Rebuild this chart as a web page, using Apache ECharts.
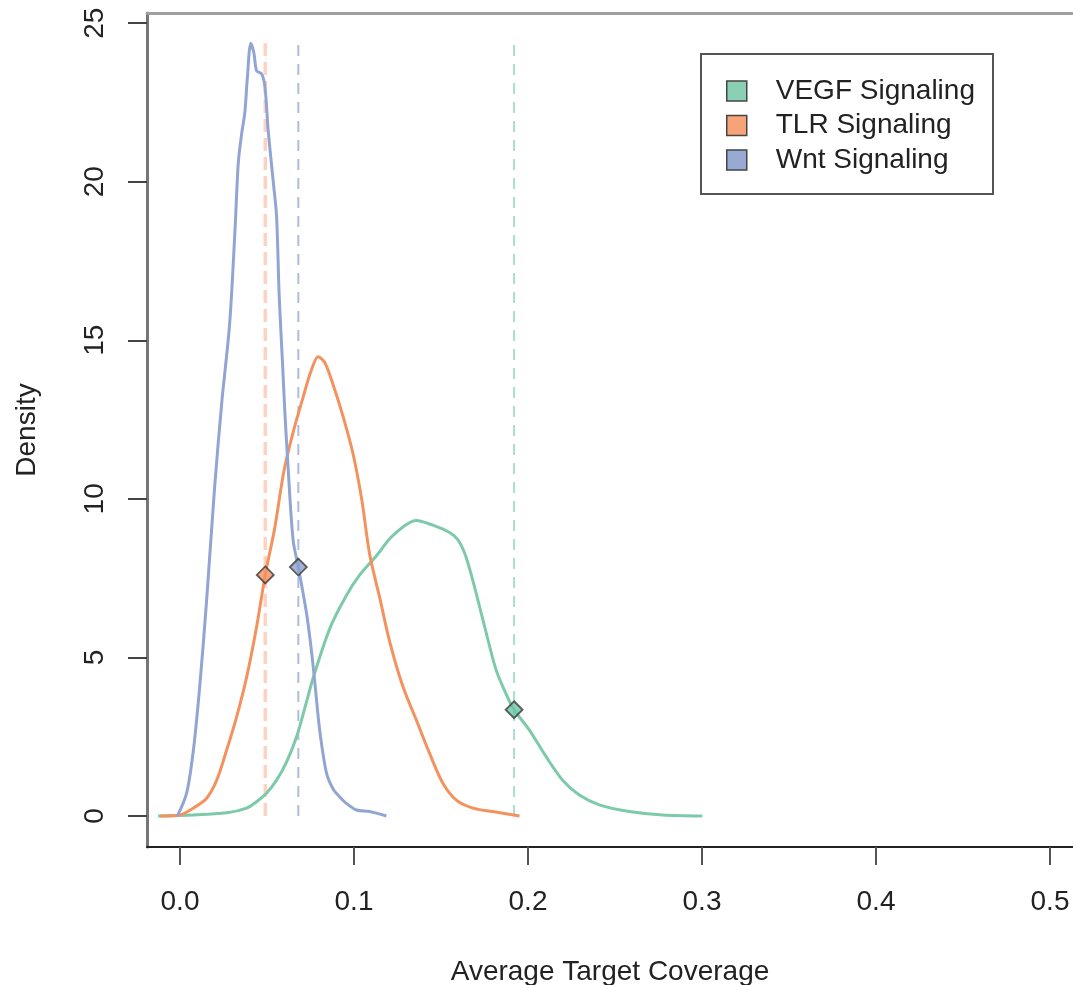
<!DOCTYPE html>
<html>
<head>
<meta charset="utf-8">
<title>Average Target Coverage</title>
<script src="https://cdn.jsdelivr.net/npm/echarts@6/dist/echarts.min.js"></script>
<style>
  html, body { margin: 0; padding: 0; background: #ffffff; }
  #chart { width: 1073px; height: 985px; }
</style>
</head>
<body>
<div id="chart"></div>
<script>
// Pathway names, in legend order
const seriesNames = ['VEGF Signaling', 'TLR Signaling', 'Wnt Signaling'];

// Kernel density estimates: [coverage, density]
const vegfDensity = [
  [-0.0126, 0.0], [0.0077, 0.03], [0.0268, 0.1], [0.0383, 0.25], [0.044, 0.45],
  [0.0497, 0.72], [0.0555, 1.13], [0.0612, 1.7], [0.067, 2.5], [0.0727, 3.6],
  [0.0765, 4.35], [0.086, 5.9], [0.0956, 6.95], [0.1033, 7.6], [0.1128, 8.2],
  [0.1224, 8.85], [0.1358, 9.32], [0.1453, 9.17], [0.1549, 8.94], [0.1595, 8.72],
  [0.1635, 8.3], [0.1664, 7.8], [0.1702, 7.03], [0.176, 5.77], [0.1817, 4.6],
  [0.1874, 3.85], [0.192, 3.35], [0.2008, 2.71], [0.2104, 1.87], [0.2199, 1.13],
  [0.2295, 0.66], [0.241, 0.35], [0.2582, 0.14], [0.2773, 0.03], [0.3002, 0.0]
];
const tlrDensity = [
  [-0.0115, 0.0], [0.0, 0.03], [0.0077, 0.25], [0.0153, 0.56], [0.0211, 1.13],
  [0.0268, 2.08], [0.0325, 3.12], [0.0383, 4.38], [0.044, 5.96], [0.049, 7.6],
  [0.0545, 9.1], [0.0598, 10.9], [0.065, 12.1], [0.0707, 13.2], [0.0755, 14.06],
  [0.0794, 14.48], [0.0832, 14.3], [0.088, 13.6], [0.0937, 12.6], [0.0994, 11.43],
  [0.1045, 9.96], [0.109, 8.25], [0.1147, 6.9], [0.1205, 5.5], [0.1281, 4.08],
  [0.1358, 3.03], [0.1434, 1.98], [0.1511, 1.03], [0.1588, 0.5], [0.1683, 0.25],
  [0.1798, 0.14], [0.1951, 0.0]
];
const wntDensity = [
  [-0.0015, 0.0], [0.0038, 0.72], [0.0077, 2.08], [0.0115, 4.19], [0.0153, 6.81],
  [0.0199, 10.37], [0.0241, 13.1], [0.0285, 15.5], [0.0316, 18.47], [0.0335, 20.6],
  [0.0354, 21.5], [0.0373, 22.2], [0.0386, 23.2], [0.0407, 24.37], [0.0425, 24.05],
  [0.044, 23.5], [0.0469, 23.4], [0.0488, 23.0], [0.0507, 21.6], [0.0535, 20.05],
  [0.0555, 18.9], [0.057, 16.4], [0.0589, 14.3], [0.0602, 12.8], [0.0621, 11.0],
  [0.065, 8.7], [0.068, 7.85], [0.0727, 6.4], [0.0755, 5.23], [0.0775, 4.2],
  [0.0803, 2.7], [0.0842, 1.35], [0.088, 0.85], [0.0918, 0.6], [0.0956, 0.4],
  [0.1014, 0.19], [0.109, 0.14], [0.1186, 0.0]
];

// Observed coverage for each pathway and its density on the curve
const observedX = [0.192, 0.049, 0.068];
const observedY = [3.35, 7.6, 7.85];
// Reference lines run from zero up to the tallest density peak
const refLineTop = 24.37;

// Axis ticks
const xTicks = [0, 0.1, 0.2, 0.3, 0.4, 0.5];
const yTicks = [0, 5, 10, 15, 20, 25];

// ---- styling ----
const FONT = 'Liberation Sans, Arial, Helvetica, sans-serif';
const lineColors = ['#7ccaa9', '#f4925f', '#91a5d3'];
const fillColors = ['#6cc4a6', '#f5915f', '#8da0cb'];
const legendFills = ['#8ad0b5', '#f7a378', '#98aad4'];
const dashColors = ['rgba(102,194,165,0.55)', 'rgba(252,141,98,0.4)', 'rgba(141,160,203,0.7)'];
const dashWidths = [2, 3.5, 2];
const dashPatterns = [[11, 8], [13, 6], [11, 8]];
const densities = [vegfDensity, tlrDensity, wntDensity];

const xMin = -0.01897, xMax = 0.51322;
const yMin = -0.9776, yMax = 25.32;

const series = [];
// dashed reference lines at each observed value
seriesNames.forEach((name, i) => {
  series.push({
    name: name + ' observed line',
    type: 'line',
    data: [[observedX[i], 0], [observedX[i], refLineTop]],
    showSymbol: false,
    silent: true,
    z: 2,
    lineStyle: { color: dashColors[i], width: dashWidths[i], type: dashPatterns[i] }
  });
});
// density curves
seriesNames.forEach((name, i) => {
  series.push({
    name: name,
    type: 'line',
    data: densities[i],
    showSymbol: false,
    smooth: 0.3,
    z: 3,
    itemStyle: { color: fillColors[i] },
    lineStyle: { color: lineColors[i], width: 3 }
  });
});
// diamonds at the observed value
seriesNames.forEach((name, i) => {
  series.push({
    name: name + ' observed',
    type: 'scatter',
    data: [[observedX[i], observedY[i]]],
    symbol: 'diamond',
    symbolSize: 17,
    z: 5,
    itemStyle: { color: fillColors[i], borderColor: '#3a3a3a', borderWidth: 1.8 }
  });
});

const chart = echarts.init(document.getElementById('chart'), null, { renderer: 'canvas' });
chart.setOption({
  animation: false,
  backgroundColor: '#ffffff',
  textStyle: { fontFamily: FONT },
  grid: { left: 147, top: 13, right: 0, bottom: 138, containLabel: false, outerBoundsMode: 'none' },
  legend: {
    left: 726,
    top: 77,
    orient: 'vertical',
    itemWidth: 20,
    itemHeight: 20,
    itemGap: 6.5,
    icon: 'rect',
    selectedMode: false,
    padding: 0,
    textStyle: { fontSize: 28, color: '#222', fontFamily: FONT, padding: [0, 0, 0, 24] },
    data: seriesNames.map((n, i) => ({
      name: n,
      itemStyle: { color: legendFills[i], borderColor: '#444', borderWidth: 1.5 }
    }))
  },
  graphic: [{
    type: 'rect',
    shape: { x: 701, y: 54, width: 292, height: 140 },
    style: { fill: 'none', stroke: '#555', lineWidth: 2 },
    silent: true
  }],
  xAxis: [{
    type: 'value',
    min: xMin,
    max: xMax,
    position: 'bottom',
    axisLine: { show: true, onZero: false, lineStyle: { color: '#222', width: 2 } },
    axisTick: { show: true, customValues: xTicks, length: 18, lineStyle: { color: '#555', width: 2 } },
    axisLabel: {
      customValues: xTicks,
      formatter: v => v.toFixed(1),
      fontSize: 28, color: '#222', margin: 41, fontFamily: FONT
    },
    splitLine: { show: false },
    name: 'Average Target Coverage',
    nameLocation: 'middle',
    nameGap: 111,
    nameTextStyle: { fontSize: 28, color: '#222', fontFamily: FONT }
  }, {
    type: 'value',
    min: xMin,
    max: xMax,
    position: 'top',
    axisLine: { show: true, onZero: false, lineStyle: { color: '#a0a0a0', width: 3 } },
    axisTick: { show: false },
    axisLabel: { show: false },
    splitLine: { show: false }
  }],
  yAxis: {
    type: 'value',
    min: yMin,
    max: yMax,
    axisLine: { show: true, onZero: false, lineStyle: { color: '#777', width: 3 } },
    axisTick: { show: true, customValues: yTicks, length: 19, lineStyle: { color: '#444', width: 2 } },
    axisLabel: {
      customValues: yTicks,
      rotate: 90,
      fontSize: 28, color: '#222', margin: 38, fontFamily: FONT
    },
    splitLine: { show: false },
    name: 'Density',
    nameLocation: 'middle',
    nameGap: 106,
    nameTextStyle: { fontSize: 28, color: '#222', fontFamily: FONT }
  },
  series: series
});
</script>
</body>
</html>
